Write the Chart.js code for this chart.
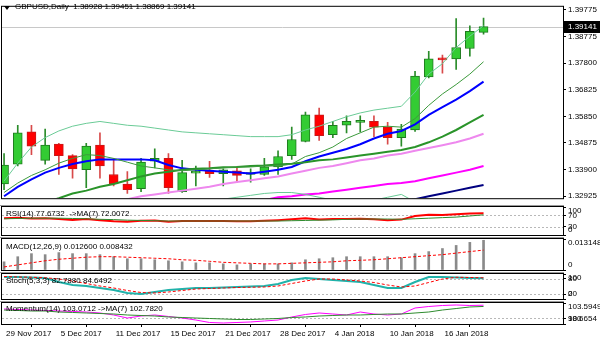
<!DOCTYPE html>
<html>
<head>
<meta charset="utf-8">
<script src="https://cdn.jsdelivr.net/npm/chart.js@4.4.1/dist/chart.umd.min.js"></script>
<style>
  body { margin: 0; background: #fff; }
  #wrap { position: relative; width: 600px; height: 343px; background: #fff; overflow: hidden;
          font-family: "Liberation Sans", Arial, sans-serif; font-size: 8px; color: #000; }
  #wrap canvas { position: absolute; left: 0; }
  .cap { position: absolute; left: 6px; white-space: nowrap; line-height: 10px; }
  .sep { position: absolute; left: 0; width: 564px; height: 1px; background: #9a9a9a; }
  #tri { position: absolute; left: 4px; top: 6px; width: 0; height: 0;
         border-left: 3px solid transparent; border-right: 3px solid transparent; border-top: 4px solid #000; }
</style>
</head>
<body>
<div id="wrap">
  <canvas id="cMain" width="600" height="205" style="top:0"></canvas>
  <canvas id="cRsi" width="600" height="32" style="top:205px"></canvas>
  <canvas id="cMacd" width="600" height="35" style="top:237px"></canvas>
  <canvas id="cSto" width="600" height="29" style="top:272px"></canvas>
  <canvas id="cMom" width="600" height="42" style="top:301px"></canvas>
  <div class="sep" style="top:205px"></div>
  <div class="sep" style="top:237px"></div>
  <div class="sep" style="top:272px"></div>
  <div class="sep" style="top:301px"></div>
  <div id="tri"></div>
  <div class="cap" style="left:15px;top:2px">GBPUSD,Daily&nbsp; 1.38928 1.39451 1.38869 1.39141</div>
  <div class="cap" style="top:209px">RSI(14) 77.6732 &nbsp;-&gt;MA(7) 72.0072</div>
  <div class="cap" style="top:242px">MACD(12,26,9) 0.012600 0.008432</div>
  <div class="cap" style="top:276px">Stoch(5,3,3) 82.7880 84.6492</div>
  <div class="cap" style="top:304px">Momentum(14) 103.0712 -&gt;MA(7) 102.7820</div>
</div>
<script>
// GBPUSD daily, 29 Nov 2017 .. 19 Jan 2018
const dateTicks = [0, 4, 8, 12, 16, 20, 24, 28, 32];
const dateLabels = ["29 Nov 2017", "5 Dec 2017", "11 Dec 2017", "15 Dec 2017", "21 Dec 2017",
  "28 Dec 2017", "4 Jan 2018", "10 Jan 2018", "16 Jan 2018"];

const open = [1.33367, 1.34097, 1.35279, 1.34236, 1.34827, 1.34410, 1.33889, 1.34792, 1.33715, 1.33367,
  1.33193, 1.34201, 1.34306, 1.33089, 1.33767, 1.33854, 1.33749, 1.33854, 1.33715, 1.33715,
  1.33993, 1.34410, 1.34932, 1.35905, 1.35175, 1.35523, 1.35627, 1.35662, 1.35453, 1.35071,
  1.35349, 1.37296, 1.37957, 1.37957, 1.38339, 1.38928];
const high = [1.34480, 1.35523, 1.35523, 1.35384, 1.34862, 1.34445, 1.34862, 1.35245, 1.34306, 1.33819,
  1.34306, 1.34653, 1.34480, 1.34236, 1.34028, 1.34201, 1.33923, 1.33993, 1.33923, 1.34306,
  1.34584, 1.35453, 1.36009, 1.36149, 1.35662, 1.35870, 1.35870, 1.35870, 1.35627, 1.35557,
  1.37505, 1.38235, 1.38096, 1.39440, 1.39174, 1.39451];
const low = [1.33158, 1.34028, 1.34445, 1.34097, 1.33715, 1.33576, 1.33228, 1.33576, 1.33297, 1.33019,
  1.33089, 1.33958, 1.33019, 1.33060, 1.33297, 1.33610, 1.33297, 1.33436, 1.33436, 1.33680,
  1.33715, 1.34271, 1.34910, 1.34966, 1.35071, 1.35245, 1.35279, 1.35105, 1.34827, 1.34758,
  1.35300, 1.37260, 1.37435, 1.37574, 1.38061, 1.38869];
const close = [1.34062, 1.35245, 1.34758, 1.34792, 1.34410, 1.33923, 1.34758, 1.34028, 1.33367, 1.33158,
  1.34167, 1.34306, 1.33228, 1.33784, 1.33784, 1.33749, 1.33889, 1.33680, 1.33749, 1.33993,
  1.34375, 1.35001, 1.35905, 1.35140, 1.35523, 1.35662, 1.35697, 1.35453, 1.35071, 1.35384,
  1.37331, 1.37957, 1.37922, 1.38374, 1.38965, 1.39141];

// overlays on the price window
const bandUpper = [1.33471, 1.34131, 1.34723, 1.35070, 1.35314, 1.35487, 1.35592, 1.35661, 1.35592, 1.35522,
  1.35487, 1.35418, 1.35348, 1.35279, 1.35244, 1.35209, 1.35175, 1.35140, 1.35105, 1.35105,
  1.35105, 1.35175, 1.35348, 1.35487, 1.35661, 1.35835, 1.35974, 1.36079, 1.36148, 1.36218,
  1.36739, 1.37400, 1.37783, 1.38373, 1.38791, 1.39173];
const bandMid = [null, null, null, 1.32690, 1.32845, 1.33019, 1.33123, 1.33262, 1.33367, 1.33506,
  1.33645, 1.33749, 1.33819, 1.33888, 1.33923, 1.33940, 1.33980, 1.33992, 1.34027, 1.34045,
  1.34080, 1.34110, 1.34166, 1.34236, 1.34270, 1.34340, 1.34410, 1.34479, 1.34549, 1.34618,
  1.34723, 1.34896, 1.35105, 1.35348, 1.35627, 1.35905];
const bandLower = [null, null, null, null, null, null, null, null, null, null,
  null, null, null, null, 1.32567, 1.32706, 1.32811, 1.32880, 1.32950, 1.33019,
  1.33054, 1.33054, 1.32984, 1.32880, 1.32776, 1.32706, 1.32706, 1.32776, 1.32880, 1.32984,
  1.32710, 1.32390, 1.32430, 1.32320, 1.32460, 1.32640];
const maBlue = [1.32915, 1.33262, 1.33540, 1.33784, 1.33958, 1.34097, 1.34201, 1.34270, 1.34270, 1.34270,
  1.34270, 1.34236, 1.34062, 1.33940, 1.33888, 1.33853, 1.33819, 1.33784, 1.33749, 1.33819,
  1.33888, 1.33992, 1.34201, 1.34375, 1.34514, 1.34653, 1.34827, 1.35035, 1.35209, 1.35314,
  1.35557, 1.35905, 1.36183, 1.36461, 1.36774, 1.37122];
const maFast = [1.33054, 1.33401, 1.33680, 1.33888, 1.34131, 1.34305, 1.34444, 1.34410, 1.34305, 1.34166,
  1.34027, 1.33958, 1.33888, 1.33853, 1.33888, 1.33923, 1.33958, 1.33992, 1.33992, 1.34027,
  1.34027, 1.34097, 1.34375, 1.34514, 1.34723, 1.35035, 1.35244, 1.35453, 1.35487, 1.35453,
  1.35766, 1.36252, 1.36670, 1.37017, 1.37400, 1.37852];
const maViolet = [null, null, null, null, null, null, null, null, 1.32706, 1.32811,
  1.32915, 1.32984, 1.33054, 1.33123, 1.33193, 1.33262, 1.33367, 1.33436, 1.33506, 1.33575,
  1.33645, 1.33749, 1.33853, 1.33958, 1.34027, 1.34131, 1.34236, 1.34305, 1.34410, 1.34479,
  1.34583, 1.34688, 1.34792, 1.34896, 1.35035, 1.35209];
const maMagenta = [null, null, null, null, null, null, null, null, null, null,
  null, null, null, null, null, null, null, null, 1.32706, 1.32776,
  1.32880, 1.32915, 1.32984, 1.33019, 1.33089, 1.33158, 1.33228, 1.33297, 1.33367, 1.33401,
  1.33471, 1.33575, 1.33680, 1.33784, 1.33888, 1.34027];
const maNavy = [null, null, null, null, null, null, null, null, null, null,
  null, null, null, null, null, null, null, null, null, null,
  null, null, null, null, null, null, null, null, null, 1.32706,
  1.32811, 1.32915, 1.33019, 1.33123, 1.33228, 1.33332];
const priceTicks = [1.32925, 1.33900, 1.34875, 1.35850, 1.36825, 1.37800, 1.38775, 1.39775];

// oscillators
const rsi = [60, 62, 59, 60, 57, 54, 57, 53, 49, 47, 51, 52, 47, 50, 50, 50, 50, 49, 49, 51,
  53, 56, 60, 55, 57, 57, 58, 56, 53, 55, 68, 72, 71, 74, 77, 77.6732];
const rsiMa = [58, 59, 60, 60, 60, 59, 58, 56, 55, 53, 52, 51, 50, 50, 50, 50, 50, 50, 50, 50,
  50, 51, 52, 53, 54, 56, 57, 57, 57, 56, 58, 60, 62, 64, 68, 72.0072];
const macdMain = [0.00347, 0.00564, 0.00694, 0.00651, 0.00738, 0.00694, 0.00694, 0.00651, 0.00564, 0.00477,
  0.00477, 0.00434, 0.00391, 0.00347, 0.00304, 0.00304, 0.00260, 0.00217, 0.00260, 0.00260,
  0.00260, 0.00304, 0.00434, 0.00477, 0.00521, 0.00564, 0.00564, 0.00564, 0.00564, 0.00521,
  0.00694, 0.00781, 0.00911, 0.01042, 0.01172, 0.012600];
const macdSignal = [0.00130, 0.00217, 0.00304, 0.00391, 0.00456, 0.00499, 0.00543, 0.00564, 0.00564, 0.00543,
  0.00521, 0.00499, 0.00477, 0.00434, 0.00412, 0.00369, 0.00326, 0.00304, 0.00282, 0.00260,
  0.00260, 0.00282, 0.00304, 0.00326, 0.00347, 0.00391, 0.00412, 0.00434, 0.00477, 0.00521,
  0.00564, 0.00608, 0.00651, 0.00716, 0.00781, 0.008432];
const stochMain = [88, 88, 86, 84, 68, 56, 52, 44, 36, 24, 20, 28, 36, 40, 44, 44, 46, 48, 50, 52,
  60, 76, 84, 80, 76, 72, 68, 56, 44, 44, 68, 88, 88, 86, 84, 82.7880];
const stochSignal = [90, 88, 87, 85, 80, 72, 62, 52, 44, 34, 26, 24, 28, 34, 40, 42, 44, 46, 47, 48,
  52, 62, 72, 80, 80, 76, 72, 66, 56, 48, 52, 66, 80, 87, 86, 84.6492];
const momentum = [102.19, 102.07, 101.95, 101.84, 101.72, 101.60, 101.48, 101.25, 100.78, 100.07,
  100.54, 100.78, 100.43, 100.07, 99.60, 99.02, 98.90, 99.02, 99.14, 99.37,
  99.60, 100.31, 100.90, 101.25, 101.01, 100.78, 101.48, 101.01, 100.78, 101.01,
  102.42, 102.77, 103.01, 103.13, 103.01, 103.0712];
const momentumMa = [101.95, 101.84, 101.72, 101.72, 101.48, 101.37, 101.25, 101.13, 101.01, 100.78,
  100.66, 100.54, 100.31, 100.19, 100.07, 99.96, 99.84, 99.72, 99.72, 99.84,
  99.96, 100.19, 100.31, 100.54, 100.66, 100.78, 100.78, 100.90, 101.01, 101.01,
  101.25, 101.48, 101.95, 102.30, 102.66, 102.782];

const FONT = '8px "Liberation Sans", Arial, sans-serif';
const X_MIN = -0.15, X_MAX = 40.8;
const pts = arr => arr.map((v, i) => ({x: i, y: v}));

// dotted levels, frame, right-hand labels, last price marker
const panelDecor = {
  id: 'panelDecor',
  beforeDatasetsDraw(chart, args, o) {
    const {ctx, chartArea: a, scales: {y}} = chart;
    ctx.save();
    ctx.lineWidth = 1;
    ctx.strokeStyle = '#b8b8b8';
    ctx.setLineDash([2, 2]);
    (o.levels || []).forEach(v => {
      const py = Math.round(y.getPixelForValue(v)) + 0.5;
      ctx.beginPath(); ctx.moveTo(a.left, py); ctx.lineTo(a.right, py); ctx.stroke();
    });
    ctx.setLineDash([]);
    if (o.last != null) {
      const py = Math.round(y.getPixelForValue(o.last)) + 0.5;
      ctx.strokeStyle = '#c8c8c8';
      ctx.beginPath(); ctx.moveTo(a.left, py); ctx.lineTo(a.right, py); ctx.stroke();
    }
    ctx.restore();
  },
  afterDraw(chart, args, o) {
    const {ctx, chartArea: a, scales: {y}} = chart;
    ctx.save();
    ctx.strokeStyle = '#000';
    ctx.lineWidth = 1;
    ctx.strokeRect(a.left - 0.5, a.top - 0.5, a.right - a.left + 1, a.bottom - a.top + 1);
    ctx.font = FONT;
    ctx.textBaseline = 'middle';
    ctx.textAlign = 'left';
    ctx.fillStyle = '#000';
    (o.labels || []).forEach(([v, t]) => {
      const py = Math.min(Math.max(y.getPixelForValue(v), a.top + 4), a.bottom - 5);
      ctx.fillText(t, a.right + 5, py);
    });
    if (o.last != null) {
      const py = Math.round(y.getPixelForValue(o.last));
      ctx.fillRect(a.right + 1, py - 6, chart.width - a.right - 1, 12);
      ctx.fillStyle = '#fff';
      ctx.fillText(o.last.toFixed(5), a.right + 5, py);
    }
    ctx.restore();
  }
};
Chart.register(panelDecor);

function yAxis(min, max, ticks, showLabels) {
  return {
    type: 'linear', position: 'right', min: min, max: max,
    grid: {drawOnChartArea: false, drawTicks: true, tickLength: 3, color: '#000'},
    border: {display: false},
    ticks: {display: showLabels, color: '#000', font: {family: '"Liberation Sans", Arial, sans-serif', size: 8},
      padding: 2, autoSkip: false, callback: v => v.toFixed(5)},
    afterBuildTicks: ax => { ax.ticks = ticks.map(v => ({value: v})); },
    afterFit: ax => { ax.width = 37; }
  };
}

const hiddenX = {type: 'linear', min: X_MIN, max: X_MAX, offset: false, display: false};

function panel(id, datasets, y, deco, pad, x) {
  return new Chart(document.getElementById(id), {
    type: 'bar',
    data: {datasets: datasets},
    options: {
      responsive: false, animation: false, events: [],
      layout: {padding: {left: 2, right: 0, top: pad[0], bottom: pad[1]}},
      plugins: {legend: {display: false}, tooltip: {enabled: false}, panelDecor: deco},
      scales: {x: x || hiddenX, y: y}
    }
  });
}

function line(arr, color, width, dash) {
  return {type: 'line', data: pts(arr), borderColor: color, borderWidth: width, borderDash: dash || [],
    pointRadius: 0, tension: 0, spanGaps: false, order: 0};
}

const bull = close.map((c, i) => c >= open[i]);

panel('cMain', [
  {type: 'bar', data: low.map((l, i) => ({x: i, y: [l, high[i]]})), grouped: false, barThickness: 1,
    backgroundColor: bull.map(b => b ? '#2a8c2a' : '#d84a4a'), order: 3},
  {type: 'bar', data: open.map((o, i) => ({x: i, y: [o, close[i]]})), grouped: false, barThickness: 9,
    minBarLength: 2, borderWidth: 1, borderSkipped: false,
    backgroundColor: bull.map(b => b ? '#33cc33' : '#ff0000'),
    borderColor: bull.map(b => b ? '#1e7a1e' : '#c81818'), order: 2},
  line(bandUpper, '#6acb96', 1),
  line(bandLower, '#6acb96', 1),
  line(maFast, '#3c9a3c', 1),
  line(bandMid, '#2a942a', 2),
  line(maViolet, '#ee88ee', 2),
  line(maMagenta, '#ff00ff', 2),
  line(maNavy, '#000080', 2),
  line(maBlue, '#0000ff', 2)
], yAxis(1.328453, 1.398689, priceTicks, true), {last: close[close.length - 1]}, [2, 1]);

panel('cRsi', [
  line(rsiMa, '#2e8b2e', 1),
  line(rsi, '#ff0000', 2)
], yAxis(0, 100, [0, 30, 70, 100], false),
  {levels: [30, 70], labels: [[100, '100'], [70, '70'], [30, '30'], [0, '0']]}, [2, 2]);

panel('cMacd', [
  {type: 'bar', data: pts(macdMain), grouped: false, barThickness: 2, backgroundColor: '#8a8a8a', order: 2},
  line(macdSignal, '#ff0000', 1, [3, 2])
], yAxis(0, 0.013148, [0, 0.013148], false),
  {labels: [[0.013148, '0.013148'], [0, '0']]}, [2, 2]);

panel('cSto', [
  line(stochSignal, '#ff0000', 1, [3, 2]),
  line(stochMain, '#20b2aa', 2)
], yAxis(0, 100, [0, 20, 80, 100], false),
  {levels: [20, 80], labels: [[100, '100'], [80, '80'], [20, '20'], [0, '0']]}, [2, 2]);

panel('cMom', [
  line(momentumMa, '#2e8b2e', 1),
  line(momentum, '#ff00ff', 1)
], yAxis(98.6654, 103.5949, [98.6654, 100, 103.5949], false),
  {levels: [100], labels: [[103.5949, '103.5949'], [100, '100'], [98.6654, '98.6654']]}, [2, 0],
  {
    type: 'linear', min: X_MIN, max: X_MAX, offset: false, position: 'bottom',
    grid: {drawOnChartArea: false, drawTicks: true, tickLength: 3, color: '#000'},
    border: {display: false},
    ticks: {autoSkip: false, maxRotation: 0, align: 'start', labelOffset: 2, padding: 2, color: '#000',
      font: {family: '"Liberation Sans", Arial, sans-serif', size: 8},
      callback: v => dateLabels[dateTicks.indexOf(v)]},
    afterBuildTicks: ax => { ax.ticks = dateTicks.map(v => ({value: v})); },
    afterFit: ax => { ax.height = 19; }
  });
</script>
</body>
</html>
